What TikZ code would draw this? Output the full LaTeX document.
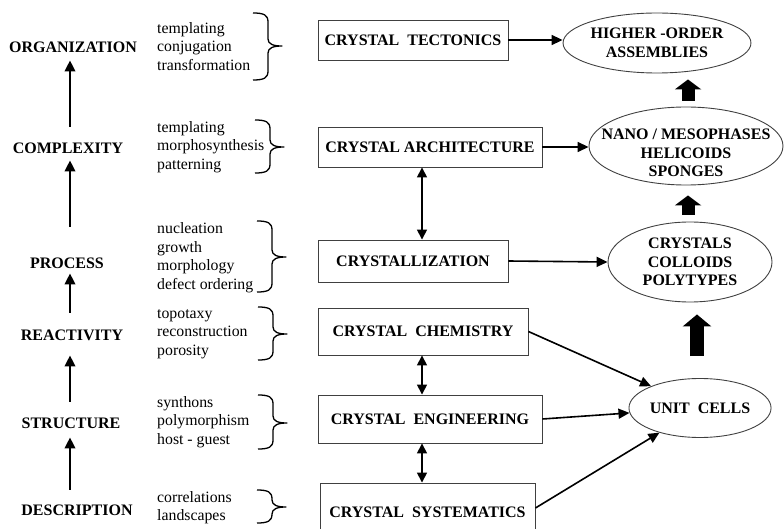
\documentclass[tikz,border=0pt]{standalone}
\usepackage{fontspec}
\setmainfont{Liberation Serif}
\usetikzlibrary{arrows.meta,shapes.geometric,calc}
\newcommand{\rbr}[4]{%
  \draw[brc] ({#1-15},{#2}) .. controls ({#1-4},{#2}) and ({#1},{#2+2}) .. ({#1},{#2+9})
    -- ({#1},{#3-7}) .. controls ({#1},{#3-2}) and ({#1+5},{#3}) .. ({#1+14},{#3})
    .. controls ({#1+5},{#3}) and ({#1},{#3+2}) .. ({#1},{#3+7})
    -- ({#1},{#4-9}) .. controls ({#1},{#4-2}) and ({#1-4},{#4}) .. ({#1-15},{#4});}
\begin{document}
\begin{tikzpicture}[x=1pt,y=-1pt,
  lab/.style={font=\bfseries\fontsize{16}{18}\selectfont, inner sep=0pt, text height=10.5pt, text depth=0pt},
  lst/.style={font=\fontsize{15.8}{18.5}\selectfont, align=left, anchor=west, inner sep=0pt},
  bx/.style={draw=black!75, line width=0.9pt, inner sep=0pt, font=\bfseries\fontsize{16}{18}\selectfont},
  eltext/.style={align=center, inner sep=0pt, font=\bfseries\fontsize{16}{18.7}\selectfont},
  ell/.style={ellipse, draw=black!75, line width=0.9pt, inner sep=0pt, align=center, font=\bfseries\fontsize{16}{18.7}\selectfont},
  uparr/.style={line width=2.2pt, -{Triangle[length=11pt,width=10.5pt]}},
  con/.style={line width=1.6pt, -{Triangle[length=11pt,width=10pt]}},
  dbl/.style={line width=1.6pt, {Triangle[length=10pt,width=10pt]}-{Triangle[length=10pt,width=10pt]}},
  blk/.style={line width=13pt, -{Triangle[length=10pt,width=26pt]}},
  blkb/.style={line width=14pt, -{Triangle[length=12pt,width=28pt]}},
  brc/.style={line width=1.3pt, line join=round}]
\path[use as bounding box, clip] (0,0) rectangle (784,529);

% left hierarchy
\node[lab] (org) at (73,47) {ORGANIZATION};
\node[lab] (cpx) at (68,148) {COMPLEXITY};
\node[lab] (pro) at (67,263) {PROCESS};
\node[lab] (rea) at (72,335) {REACTIVITY};
\node[lab] (str) at (71,423) {STRUCTURE};
\node[lab] (des) at (77,510) {DESCRIPTION};
\coordinate (ax) at (70,0);
\draw[uparr, shorten <=16pt, shorten >=8pt] (cpx.north -| ax) -- (org.south -| ax);
\draw[uparr, shorten <=31pt, shorten >=7pt] (pro.north -| ax) -- (cpx.south -| ax);
\draw[uparr, shorten <=17pt, shorten >=5pt] (rea.north -| ax) -- (pro.south -| ax);
\draw[uparr, shorten <=16pt, shorten >=15pt] (str.north -| ax) -- (rea.south -| ax);
\draw[uparr, shorten <=15pt, shorten >=9pt] (des.north -| ax) -- (str.south -| ax);

% lists
\node[lst] (l1) at (157,46.5) {templating\\conjugation\\transformation};
\node[lst] (l2) at (157,147) {templating\\morphosynthesis\\patterning};
\node[lst] (l3) at (157,257.5) {nucleation\\growth\\morphology\\defect ordering};
\node[lst] (l4) at (157,334) {topotaxy\\reconstruction\\porosity};
\node[lst] (l5) at (157,422) {synthons\\polymorphism\\host - guest};
\node[lst] (l6) at (157,507.5) {correlations\\landscapes};

% braces
\rbr{268}{13}{46}{80}
\rbr{270}{120}{147}{173}
\rbr{272}{221}{257}{292}
\rbr{273}{307}{334}{360}
\rbr{273}{395}{423}{449}
\rbr{272}{490}{507}{523}

% boxes
\node[bx, minimum width=190pt, minimum height=40pt] (tec) at (413,40) {CRYSTAL\ \ TECTONICS};
\node[bx, minimum width=224pt, minimum height=40pt] (arc) at (430,147) {CRYSTAL ARCHITECTURE};
\node[bx, minimum width=190pt, minimum height=42pt] (cry) at (413,261) {CRYSTALLIZATION};
\node[bx, minimum width=210pt, minimum height=47pt] (che) at (423,331.5) {CRYSTAL\ \ CHEMISTRY};
\node[bx, minimum width=224pt, minimum height=48pt] (eng) at (430,419) {CRYSTAL\ \ ENGINEERING};
\node[bx, minimum width=215pt, minimum height=58pt] (sys) at (427.5,512) {CRYSTAL\ \ SYSTEMATICS};

% ellipses
\node[ell, minimum width=114pt, minimum height=60pt] (hig) at (657,43) {HIGHER -ORDER\\ASSEMBLIES};
\node[ell, minimum width=194pt, minimum height=78pt,
  label={[eltext, yshift=-7pt]center:NANO / MESOPHASES\\HELICOIDS\\SPONGES}] (nan) at (686,146) {};
\node[ell, minimum width=164pt, minimum height=80pt] (cols) at (690,262) {CRYSTALS\\COLLOIDS\\POLYTYPES};
\node[ell, minimum width=130pt, minimum height=59pt] (uni) at (700,408) {UNIT\ \ CELLS};

% connectors
\draw[con] (tec.east) -- (tec.east -| hig.west);
\draw[con] (arc.east) -- (arc.east -| nan.west);
\draw[con] (cry.east) -- (cols.west);
\draw[con] (che.east) -- (uni);
\draw[con] (eng.east) -- (uni);
\draw[con] ([yshift=4pt]sys.east) -- (uni);
\coordinate (vx) at (422,0);
\draw[dbl] (arc.south -| vx) -- (cry.north -| vx);
\draw[dbl] (che.south -| vx) -- (eng.north -| vx);
\draw[dbl] (eng.south -| vx) -- (sys.north -| vx);

% block arrows
\draw[blk, shorten <=6pt, shorten >=6pt] ([xshift=2pt]nan.north) -- ([xshift=31pt]hig.south);
\draw[blk, shorten <=7pt, shorten >=10pt] ([xshift=-2pt]cols.north) -- ([xshift=2pt]nan.south);
\draw[blkb, shorten <=22pt, shorten >=12pt] ([xshift=-3pt]uni.north) -- ([xshift=7pt]cols.south);
\end{tikzpicture}
\end{document}
